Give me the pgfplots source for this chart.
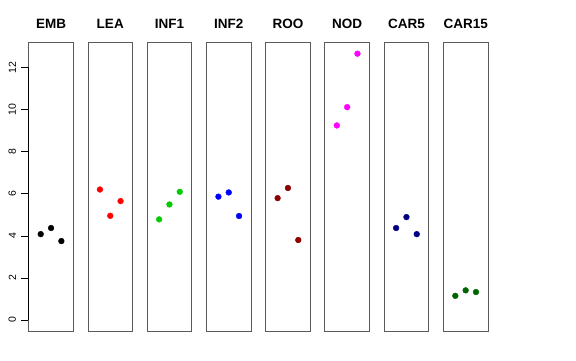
\documentclass[border=0pt]{standalone}
\usepackage{pgfplots}
\pgfplotsset{compat=1.18}
\usepackage{fontspec}
\setmainfont{Liberation Sans}
\definecolor{green3}{RGB}{0,205,0}
\definecolor{rdark}{RGB}{139,0,0}
\definecolor{navy}{RGB}{0,0,128}
\definecolor{dgreen}{RGB}{0,100,0}
\definecolor{mag}{RGB}{255,0,255}
\definecolor{boxgray}{RGB}{90,90,90}
\pgfplotsset{
  panel/.style={
    scale only axis, width=44.7pt, height=288.3pt,
    xmin=-0.165, xmax=4.165, ymin=-0.52, ymax=13.17,
    xtick=\empty, ytick=\empty,
    axis line style={boxgray, line width=0.8pt},
    anchor=south west,
    title style={font=\bfseries\fontsize{13.5}{15}\selectfont, at={(0.5,1)}, anchor=base, yshift=8.4pt, inner sep=0pt},
    clip=false,
  },
  pts/.style={only marks, mark=*, mark size=2.9pt},
}
\begin{document}
\begin{tikzpicture}
\useasboundingbox (0pt,0pt) rectangle (576pt,360pt);
% EMB
\begin{axis}[panel, at={(28.7pt,29pt)}, title={EMB},
  ytick={0,2,4,6,8,10,12}, ytick pos=left, tick align=outside,
  major tick length=7.5pt, tick style={black, line width=0.6pt},
  yticklabel style={rotate=90, anchor=south, inner sep=0pt, yshift=5pt, font=\fontsize{10.5}{12}\selectfont},
  /pgf/number format/assume math mode=true]
\addplot[pts, black] coordinates {(1,4.08) (2,4.37) (3,3.75)};
\draw[black, line width=0.7pt] (axis cs:-0.165,0) -- (axis cs:-0.165,12);
\end{axis}
\begin{axis}[panel, at={(87.9pt,29pt)}, title={LEA}]
\addplot[pts, red] coordinates {(1,6.20) (2,4.95) (3,5.65)};
\end{axis}
\begin{axis}[panel, at={(147.1pt,29pt)}, title={INF1}]
\addplot[pts, green3] coordinates {(1,4.78) (2,5.49) (3,6.09)};
\end{axis}
\begin{axis}[panel, at={(206.4pt,29pt)}, title={INF2}]
\addplot[pts, blue] coordinates {(1,5.86) (2,6.06) (3,4.94)};
\end{axis}
\begin{axis}[panel, at={(265.6pt,29pt)}, title={ROO}]
\addplot[pts, rdark] coordinates {(1,5.79) (2,6.27) (3,3.80)};
\end{axis}
\begin{axis}[panel, at={(324.8pt,29pt)}, title={NOD}]
\addplot[pts, mag] coordinates {(1,9.24) (2,10.11) (3,12.65)};
\end{axis}
\begin{axis}[panel, at={(384.1pt,29pt)}, title={CAR5}]
\addplot[pts, navy] coordinates {(1,4.37) (2,4.89) (3,4.08)};
\end{axis}
\begin{axis}[panel, at={(443.3pt,29pt)}, title={CAR15}]
\addplot[pts, dgreen] coordinates {(1,1.15) (2,1.41) (3,1.33)};
\end{axis}
\end{tikzpicture}
\end{document}
